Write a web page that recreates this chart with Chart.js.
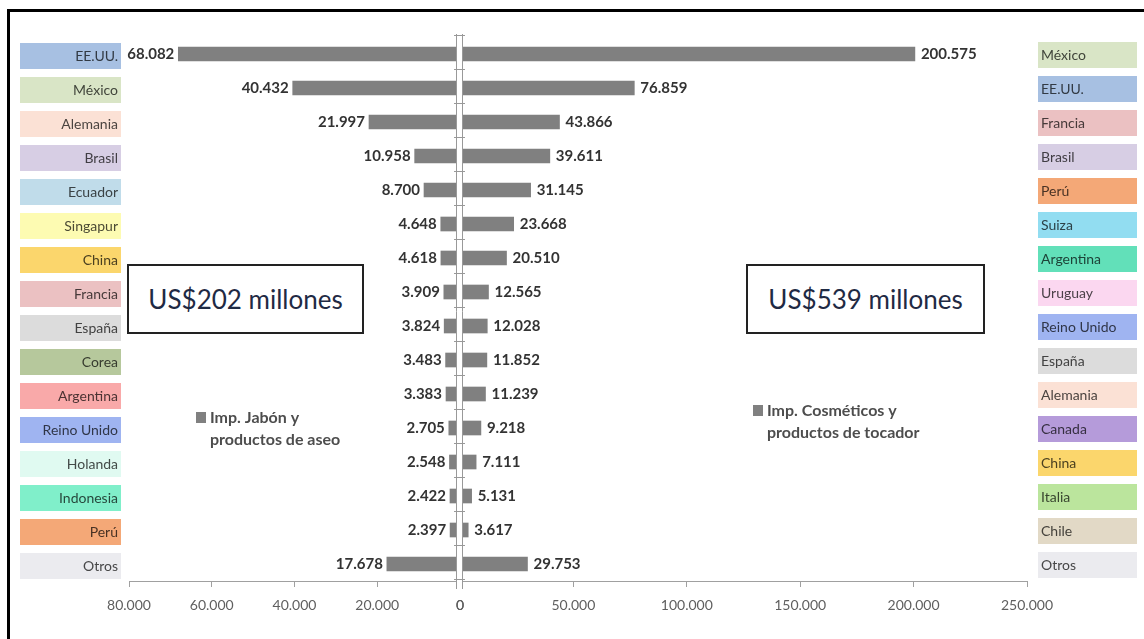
<!DOCTYPE html>
<html>
<head>
<meta charset="utf-8">
<script src="https://cdn.jsdelivr.net/npm/chart.js@4/dist/chart.umd.min.js"></script>
<style>
  html, body { margin: 0; padding: 0; background: #fff; }
  #wrap { position: relative; width: 1144px; height: 639px; overflow: hidden; }
  #frame { position: absolute; left: 7px; top: 9px; width: 1200px; height: 700px;
           border-left: 3px solid #000; border-top: 3px solid #000; }
  canvas { position: absolute; left: 0; top: 0; }
  .callout { position: absolute; top: 264px; height: 66px; border: 2px solid #222; background: #fff;
             font-family: Lato, 'Open Sans', sans-serif; font-size: 26px; color: #1f2a44;
             display: flex; align-items: center; justify-content: center; box-sizing: content-box; }
</style>
</head>
<body>
<div id="wrap">
  <div id="frame"></div>
  <canvas id="chart" width="1144" height="639"></canvas>
  <div class="callout" style="left:127px; width:233px;">US$202 millones</div>
  <div class="callout" style="left:746px; width:235px;">US$539 millones</div>
</div>
<script>
document.addEventListener('DOMContentLoaded', function() {
    // Data
    const paisesJabon = ['EE.UU.', 'México', 'Alemania', 'Brasil', 'Ecuador', 'Singapur', 'China', 'Francia',
        'España', 'Corea', 'Argentina', 'Reino Unido', 'Holanda', 'Indonesia', 'Perú', 'Otros'];
    const paisesCosmeticos = ['México', 'EE.UU.', 'Francia', 'Brasil', 'Perú', 'Suiza', 'Argentina', 'Uruguay',
        'Reino Unido', 'España', 'Alemania', 'Canada', 'China', 'Italia', 'Chile', 'Otros'];
    const jabon = [68082, 40432, 21997, 10958, 8700, 4648, 4618, 3909, 3824, 3483, 3383, 2705, 2548, 2422, 2397, 17678];
    const cosmeticos = [200575, 76859, 43866, 39611, 31145, 23668, 20510, 12565, 12028, 11852, 11239, 9218, 7111, 5131, 3617, 29753];
    const ticksJabon = [80000, 60000, 40000, 20000, 0];
    const ticksCosmeticos = [0, 50000, 100000, 150000, 200000, 250000];

    // Colours of the country boxes
    const coloresJabon = ['#a7c0e2', '#d9e5c6', '#fbe1d5', '#d7cee4', '#c0dcea', '#fdfbb2', '#fbd66c', '#ebc1c2',
        '#dcdcdc', '#b6c89c', '#f9a9a9', '#9fb4f1', '#e0faf1', '#80efca', '#f4a877', '#ebebef'];
    const coloresCosmeticos = ['#d9e5c6', '#a7c0e2', '#ebc1c2', '#d7cee4', '#f4a877', '#92ddf1', '#62e0b9', '#fbd7f0',
        '#9fb4f1', '#dcdcdc', '#fbe1d5', '#b59bda', '#fbd66c', '#bbe59d', '#e2d9c6', '#ebebef'];
    const barColor = '#808080';
    const font = "Lato, 'Open Sans', sans-serif";

    function fmt(v) {
        return String(v).replace(/\B(?=(\d{3})+(?!\d))/g, '.');
    }
    function darken(hex, f) {
        const n = parseInt(hex.slice(1), 16);
        const r = Math.round(((n >> 16) & 255) * f), g = Math.round(((n >> 8) & 255) * f), b = Math.round((n & 255) * f);
        return 'rgb(' + r + ',' + g + ',' + b + ')';
    }

    // boxes, centre line, value labels and legends
    const decor = {
        id: 'decor',
        afterDatasetsDraw(chart) {
            const ctx = chart.ctx;
            const area = chart.chartArea;
            const xl = chart.scales.xl;
            const cx = xl.right;
            const rowH = (area.bottom - area.top) / paisesJabon.length;
            ctx.save();
            // centre axis (double line with ticks)
            ctx.fillStyle = '#fff';
            ctx.fillRect(cx - 3, area.top - 3, 5, area.bottom - area.top + 10);
            ctx.strokeStyle = '#999';
            ctx.lineWidth = 1;
            ctx.beginPath();
            ctx.moveTo(cx - 3.5, area.top - 3); ctx.lineTo(cx - 3.5, area.bottom + 8);
            ctx.moveTo(cx + 2.5, area.top - 3); ctx.lineTo(cx + 2.5, area.bottom + 8);
            for (let k = 0; k <= paisesJabon.length; k++) {
                const y = Math.round(area.top - 2 + k * rowH) + 0.5;
                ctx.moveTo(cx - 6, y); ctx.lineTo(cx + 5, y);
            }
            ctx.stroke();

            // value labels
            ctx.font = 'bold 15px ' + font;
            ctx.fillStyle = '#333';
            ctx.textBaseline = 'middle';
            chart.getDatasetMeta(0).data.forEach(function(bar, i) {
                ctx.textAlign = 'right';
                ctx.fillText(fmt(jabon[i]), bar.x - 4, bar.y);
            });
            chart.getDatasetMeta(1).data.forEach(function(bar, i) {
                ctx.textAlign = 'left';
                ctx.fillText(fmt(cosmeticos[i]), bar.x + 6, bar.y);
            });

            // country boxes
            ctx.font = '14px ' + font;
            paisesJabon.forEach(function(p, i) {
                const y = chart.scales.y.getPixelForValue(i) + 2;
                ctx.fillStyle = coloresJabon[i];
                ctx.fillRect(20, y - 13, 101, 26);
                ctx.fillStyle = darken(coloresJabon[i], 0.3);
                ctx.textAlign = 'right';
                ctx.fillText(p, 118, y);
            });
            paisesCosmeticos.forEach(function(p, i) {
                const y = chart.scales.y2.getPixelForValue(i) + 1;
                ctx.fillStyle = coloresCosmeticos[i];
                ctx.fillRect(1038, y - 13, 99, 26);
                ctx.fillStyle = darken(coloresCosmeticos[i], 0.3);
                ctx.textAlign = 'left';
                ctx.fillText(p, 1041, y);
            });

            // legends
            const legends = [
                { x: 196, y: 418, lines: ['Imp. Jabón y', 'productos de aseo'] },
                { x: 753, y: 411, lines: ['Imp. Cosméticos y', 'productos de tocador'] }
            ];
            ctx.font = 'bold 16px ' + font;
            ctx.textAlign = 'left';
            legends.forEach(function(l) {
                ctx.fillStyle = barColor;
                ctx.fillRect(l.x, l.y - 6, 10, 11);
                ctx.fillStyle = '#4d4d4d';
                ctx.fillText(l.lines[0], l.x + 14, l.y);
                ctx.fillText(l.lines[1], l.x + 14, l.y + 22);
            });
            ctx.restore();
        }
    };

    const axisStyle = {
        grid: { display: true, drawOnChartArea: false, drawTicks: true, tickLength: 6, color: '#a0a0a0' },
        border: { display: true, color: '#a0a0a0' }
    };

    new Chart(document.getElementById('chart'), {
        type: 'bar',
        data: {
            labels: paisesJabon,
            datasets: [
                {
                    label: 'Imp. Jabón y productos de aseo',
                    data: jabon,
                    xAxisID: 'xl',
                    yAxisID: 'y',
                    backgroundColor: barColor,
                    barThickness: 14,
                    grouped: false
                },
                {
                    label: 'Imp. Cosméticos y productos de tocador',
                    data: cosmeticos,
                    xAxisID: 'xr',
                    yAxisID: 'y',
                    backgroundColor: barColor,
                    barThickness: 14,
                    grouped: false
                }
            ]
        },
        options: {
            indexAxis: 'y',
            responsive: false,
            animation: false,
            layout: { padding: { top: 37, left: 0, right: 0, bottom: 0 } },
            plugins: {
                legend: { display: false },
                tooltip: { enabled: false }
            },
            scales: {
                xl: {
                    type: 'linear',
                    position: 'bottom',
                    stack: 'x',
                    stackWeight: 331,
                    weight: 1,
                    reverse: true,
                    min: 0,
                    max: ticksJabon[0],
                    afterBuildTicks: function(s) { s.ticks = ticksJabon.map(v => ({ value: v })); },
                    afterFit: function(s) { s.height = 58; },
                    ticks: {
                        autoSkip: false,
                        maxRotation: 0,
                        padding: 10,
                        color: '#5f5f5f',
                        font: { family: font, size: 14 },
                        callback: v => fmt(v)
                    },
                    ...axisStyle
                },
                xr: {
                    type: 'linear',
                    position: 'bottom',
                    stack: 'x',
                    stackWeight: 567,
                    weight: 1,
                    min: 0,
                    max: ticksCosmeticos[ticksCosmeticos.length - 1],
                    afterBuildTicks: function(s) { s.ticks = ticksCosmeticos.map(v => ({ value: v })); },
                    afterFit: function(s) { s.height = 58; },
                    ticks: {
                        autoSkip: false,
                        maxRotation: 0,
                        padding: 10,
                        color: '#5f5f5f',
                        font: { family: font, size: 14 },
                        callback: v => fmt(v)
                    },
                    ...axisStyle
                },
                y: {
                    type: 'category',
                    position: 'left',
                    ticks: { display: false },
                    grid: { display: false },
                    border: { display: false },
                    afterFit: function(s) { s.width = 129; }
                },
                y2: {
                    type: 'category',
                    position: 'right',
                    labels: paisesCosmeticos,
                    offset: true,
                    ticks: { display: false },
                    grid: { display: false },
                    border: { display: false },
                    afterFit: function(s) { s.width = 117; }
                }
            }
        },
        plugins: [decor]
    });
});
</script>
</body>
</html>
